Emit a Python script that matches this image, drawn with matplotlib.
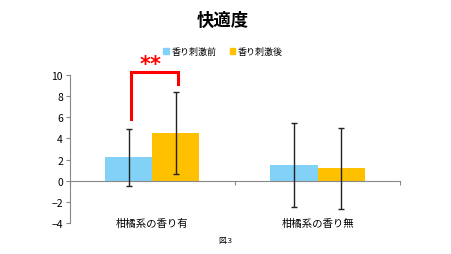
import numpy as np
import matplotlib.pyplot as plt
from matplotlib.patches import Patch

plt.rcParams['font.family'] = ['Noto Sans CJK JP', 'DejaVu Sans']

categories = ['柑橘系の香り有', '柑橘系の香り無']
before = [2.2, 1.5]
before_err = [2.7, 3.95]
after = [4.5, 1.15]
after_err = [3.9, 3.8]
series_names = ['香り刺激前', '香り刺激後']

fig = plt.figure(figsize=(4.51, 2.55), dpi=100)
ax = fig.add_axes([0.155, 0.122, 0.732, 0.58])

x = np.arange(len(categories))
w = 0.285
ax.bar(x - w / 2, before, w, color='#82D2F8', zorder=2)
ax.bar(x + w / 2, after, w, color='#FFC000', zorder=2)
ax.errorbar(x - w / 2, before, yerr=before_err, fmt='none', ecolor='#222222',
            elinewidth=1.0, capsize=2, capthick=1.0, zorder=3)
ax.errorbar(x + w / 2, after, yerr=after_err, fmt='none', ecolor='#222222',
            elinewidth=1.0, capsize=2, capthick=1.0, zorder=3)

ax.set_xlim(-0.5, 1.5)
ax.set_ylim(-4, 10)
ax.set_yticks(np.arange(-4, 11, 2))
ax.tick_params(axis='y', labelsize=7.5, length=3, color='#888888', pad=2)

# category axis sits at zero
for s in ['top', 'right']:
    ax.spines[s].set_visible(False)
ax.spines['left'].set_color('#888888')
ax.spines['bottom'].set_position(('data', 0))
ax.spines['bottom'].set_color('#888888')
ax.set_xticks([-0.5, 0.5, 1.5])
ax.set_xticklabels([])
ax.tick_params(axis='x', length=3, color='#888888')

for xi, cat in zip(x, categories):
    ax.text(xi, -4, cat, ha='center', va='center', fontsize=7.5)

# significance bracket
bx = [x[0] - w / 2 * 0.9, x[0] - w / 2 * 0.9, x[0] + w / 2 * 1.08, x[0] + w / 2 * 1.08]
by = [5.8, 10.3, 10.3, 9.1]
ax.plot(bx, by, color='red', lw=2.2, clip_on=False, solid_joinstyle='miter', zorder=4)
ax.text(x[0] - 0.01, 11.0, '**', color='red', fontsize=15, fontweight='bold',
        ha='center', va='center', family='DejaVu Sans')

handles = [Patch(color='#82D2F8'), Patch(color='#FFC000')]
fig.legend(handles, series_names, loc='center', bbox_to_anchor=(0.495, 0.795),
           ncol=2, frameon=False, fontsize=6.5, handlelength=0.6, handleheight=0.6,
           handletextpad=0.3, columnspacing=1.5)

fig.text(0.495, 0.92, '快適度', ha='center', va='center', fontsize=12.5, fontweight='bold')
fig.text(0.5, 0.055, '図.3', ha='center', va='center', fontsize=5.5)

fig.savefig('out.png', dpi=100)
